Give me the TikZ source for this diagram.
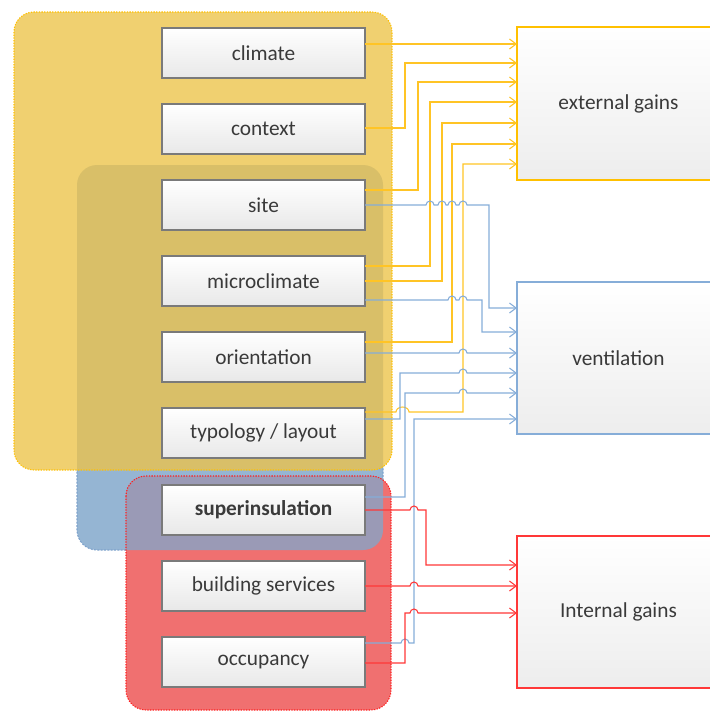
\documentclass[tikz,border=0pt]{standalone}
\usepackage{fontspec}
\setmainfont{Carlito}
\usetikzlibrary{arrows.meta,shadows}

\definecolor{grpyellow}{HTML}{F0D070}
\definecolor{grpolive}{HTML}{D9BF68}
\definecolor{grpblue}{HTML}{95B5D3}
\definecolor{grppurple}{HTML}{9A9AB6}
\definecolor{grpred}{HTML}{F07070}
\definecolor{edgeyellow}{HTML}{FFC000}
\definecolor{edgeblue}{HTML}{7FA3CC}
\definecolor{edgered}{HTML}{FF2020}
\definecolor{lnyellow}{HTML}{FFC425}
\definecolor{lnblue}{HTML}{86ADD8}
\definecolor{lnred}{HTML}{FF3838}
\definecolor{boxedge}{HTML}{7A7A7A}
\definecolor{txt}{HTML}{3A3A3A}

\tikzset{
  lbox/.style={draw=boxedge, line width=1pt, top color=white, bottom color=black!9,
    minimum width=152.25pt, minimum height=37.5pt, inner sep=0pt, outer sep=0pt,
    text=txt, font=\fontsize{16}{19}\selectfont,
    drop shadow={shadow xshift=0.7pt, shadow yshift=-0.7pt, opacity=0.3}},
  rbox/.style={line width=0.9pt, top color=white, bottom color=black!7,
    minimum width=152.25pt, minimum height=114pt, inner sep=0pt, outer sep=0pt,
    text=txt, font=\fontsize{16}{19}\selectfont},
  link/.style={line width=0.8pt, -{Straight Barb[length=5pt,width=7.5pt]}},
  yl/.style={link, draw=lnyellow},
  bl/.style={link, draw=lnblue},
  rl/.style={link, draw=lnred},
  grp/.style={rounded corners=15pt},
}
% line jumps over a crossing connector
\newcommand\linkhop[2]{-- ({#1-4},#2) arc[start angle=180,end angle=360,x radius=4,y radius=4]}
\newcommand\widehop[2]{-- ({#1-6.5},#2) arc[start angle=180,end angle=360,x radius=6.5,y radius=5]}

\begin{document}
\begin{tikzpicture}[x=0.75pt,y=-0.75pt]
\path[use as bounding box] (0,0) rectangle (710,711);
\clip (0,0) rectangle (710,711);

% group backgrounds
\fill[grp, grpblue] (77,165) rectangle (383,550);
\draw[grp, edgeblue, line width=0.8pt, dash pattern=on 1.5pt off 1pt] (77,165) rectangle (383,550);
\fill[grp, grpyellow] (14,12) rectangle (392,470);
\begin{scope}
  \clip[grp] (14,12) rectangle (392,470);
  \fill[grp, grpolive] (77,165) rectangle (383,550);
\end{scope}
\draw[grp, edgeyellow, line width=0.8pt, dash pattern=on 1pt off 1pt] (14,12) rectangle (392,470);
\fill[grp, grpred] (126,476) rectangle (391,710);
\begin{scope}
  \clip[grp] (77,165) rectangle (383,550);
  \fill[grp, grppurple] (126,476) rectangle (391,710);
\end{scope}
\draw[grp, edgered, line width=0.8pt, dash pattern=on 1pt off 1pt] (126,476) rectangle (391,710);

% factors
\node[lbox] (climate) at (263.5,53) {climate};
\node[lbox] (context) at (263.5,129) {context};
\node[lbox] (site) at (263.5,205) {site};
\node[lbox] (micro) at (263.5,281) {microclimate};
\node[lbox] (orient) at (263.5,357) {orientation};
\node[lbox] (typo) at (263.5,433) {typology / layout};
\node[lbox, font=\fontsize{16}{19}\selectfont\bfseries] (superins) at (263.5,510) {superinsulation};
\node[lbox] (bserv) at (263.5,586) {building services};
\node[lbox] (occup) at (263.5,662) {occupancy};

% effects
\node[rbox, draw=edgeyellow, minimum height=114.75pt] (ext) at (618.5,103.5) {external gains};
\node[rbox, draw=lnblue] (vent) at (618.5,358) {ventilation};
\node[rbox, draw=lnred] (intg) at (618.5,612) {Internal gains};

% external gains
\draw[yl] (climate.east |- 0,44) -- (ext.west |- 0,44);
\draw[yl] (context.east |- 0,128) -| (405,63) -- (ext.west |- 0,63);
\draw[yl] (site.east |- 0,190) -| (418,82) -- (ext.west |- 0,82);
\draw[yl] (micro.east |- 0,266) -| (430,102) -- (ext.west |- 0,102);
\draw[yl] (micro.east |- 0,281) -| (442,123) -- (ext.west |- 0,123);
\draw[yl] (orient.east |- 0,342) -| (452,144) -- (ext.west |- 0,144);
\draw[yl] (typo.east |- 0,412) \widehop{402.5}{412} -| (463,164) -- (ext.west |- 0,164);

% ventilation
\draw[bl] (site.east |- 0,205) \linkhop{430}{205} \linkhop{442}{205} \linkhop{452}{205} \linkhop{463}{205} -| (489,308) -- (vent.west |- 0,308);
\draw[bl] (micro.east |- 0,300) \linkhop{452}{300} \linkhop{463}{300} -| (482,332) -- (vent.west |- 0,332);
\draw[bl] (orient.east |- 0,353) \linkhop{463}{353} -- (vent.west |- 0,353);
\draw[bl] (typo.east |- 0,419) -| (400,373) \linkhop{463}{373} -- (vent.west |- 0,373);
\draw[bl] (superins.east |- 0,497) -| (405,393) \linkhop{463}{393} -- (vent.west |- 0,393);
\draw[bl] (occup.east |- 0,643) \linkhop{405}{643} -| (414,419) -- (vent.west |- 0,419);

% internal gains
\draw[rl] (superins.east |- 0,510) \linkhop{414}{510} -| (426,565) -- (intg.west |- 0,565);
\draw[rl] (bserv.east |- 0,586) \linkhop{414}{586} -- (intg.west |- 0,586);
\draw[rl] (occup.east |- 0,663) -| (405,613) \linkhop{414}{613} -- (intg.west |- 0,613);
\end{tikzpicture}
\end{document}
